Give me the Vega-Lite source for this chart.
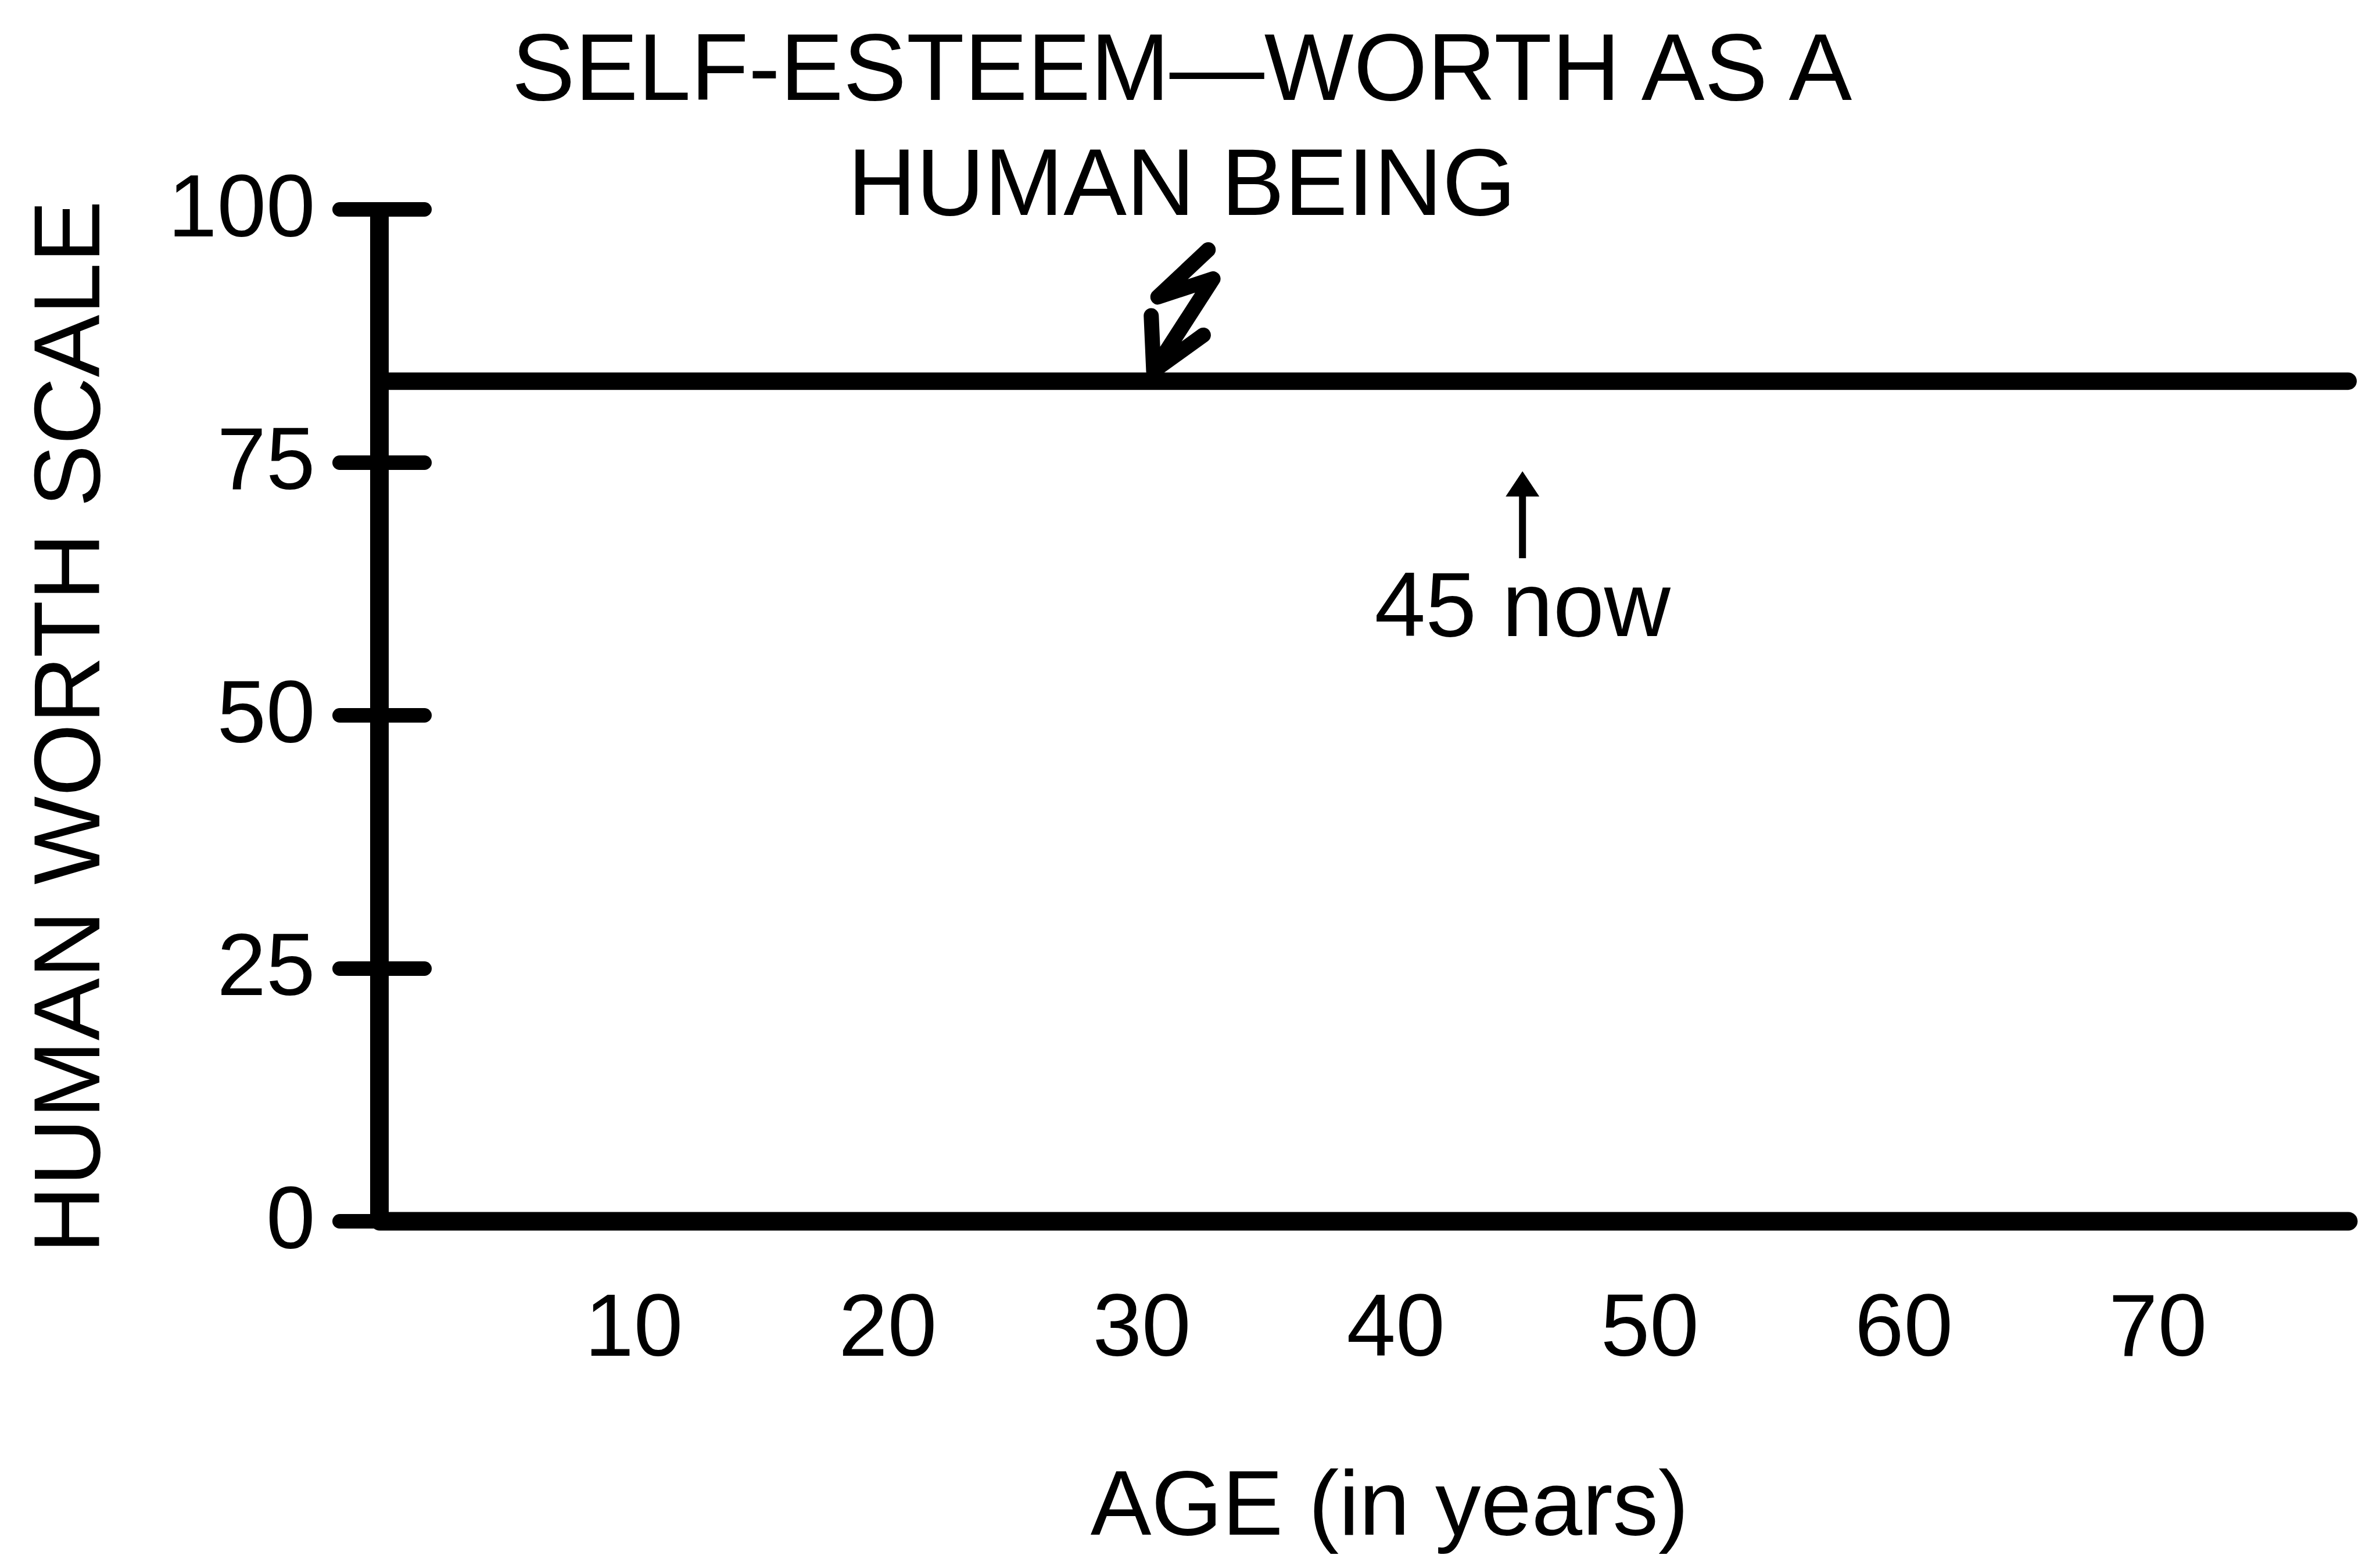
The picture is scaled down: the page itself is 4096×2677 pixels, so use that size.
{
  "$schema": "https://vega.github.io/schema/vega-lite/v6.json",
  "width": 3388,
  "height": 1742,
  "autosize": {"type": "none"},
  "padding": {"left": 653, "top": 360, "right": 55, "bottom": 575},
  "background": "white",
  "title": {
    "text": ["SELF-ESTEEM—WORTH AS A", "HUMAN BEING"],
    "font": "Liberation Sans",
    "fontSize": 163,
    "fontWeight": "normal",
    "color": "black",
    "anchor": "middle",
    "frame": "group",
    "dx": -313,
    "dy": 249,
    "baseline": "alphabetic",
    "lineHeight": 198,
    "offset": 0,
    "limit": 4000
  },
  "config": {
    "view": {"stroke": null},
    "font": "Liberation Sans",
    "axis": {"grid": false, "labelColor": "black", "titleColor": "black", "labelFont": "Liberation Sans", "titleFont": "Liberation Sans", "titleFontWeight": "normal", "labelLimit": 2000, "titleLimit": 4000}
  },
  "datasets": {
    "esteem": [{"age": 0, "worth": 83}, {"age": 77.5, "worth": 83}],
    "axisline": [{"age": 0, "low": 0, "high": 100}],
    "bolt": [{"age": 31.6, "worth": 90}],
    "arrow": [{"age": 45, "start": 65.5, "end": 72.5, "head": 72.85}],
    "now": [{"age": 45, "worth": 57.8, "label": "45 now"}]
  },
  "encoding": {
    "x": {
      "field": "age",
      "type": "quantitative",
      "scale": {"domain": [0, 77.5], "nice": false, "zero": false},
      "axis": {
        "title": "AGE (in years)",
        "values": [10, 20, 30, 40, 50, 60, 70],
        "domain": true,
        "domainColor": "black",
        "domainWidth": 32,
        "domainCap": "round",
        "ticks": false,
        "tickSize": 0,
        "labelFontSize": 152,
        "labelBaseline": "alphabetic",
        "labelPadding": 231,
        "labelFlush": false,
        "labelOverlap": false,
        "titleFontSize": 157,
        "titleX": 1738,
        "titleY": 539,
        "titleBaseline": "alphabetic",
        "titleAlign": "center"
      }
    },
    "y": {
      "field": "worth",
      "type": "quantitative",
      "scale": {"domain": [0, 100], "nice": false},
      "axis": {
        "title": "HUMAN WORTH SCALE",
        "values": [0, 25, 50, 75, 100],
        "offset": -77,
        "domain": false,
        "ticks": true,
        "tickSize": 146,
        "tickWidth": 25,
        "tickColor": "black",
        "tickCap": "round",
        "labelFontSize": 152,
        "labelPadding": 42,
        "labelOverlap": false,
        "titleFontSize": 161,
        "titleX": -560,
        "titleY": 891,
        "titleBaseline": "alphabetic",
        "titleAlign": "center",
        "titleAngle": -90
      }
    }
  },
  "layer": [
    {
      "data": {"name": "esteem"},
      "mark": {"type": "line", "color": "black", "strokeWidth": 30, "strokeCap": "round"}
    },
    {
      "data": {"name": "axisline"},
      "mark": {"type": "rule", "color": "black", "strokeWidth": 32, "strokeCap": "butt"},
      "encoding": {
        "y": {"field": "low", "type": "quantitative"},
        "y2": {"field": "high"}
      }
    },
    {
      "data": {"name": "bolt"},
      "mark": {
        "type": "point",
        "shape": "M0.43,-1L-0.4,-0.22L0.51,-0.52L-0.47,1M-0.51,0.09L-0.47,1L0.35,0.41",
        "size": 43430,
        "filled": false,
        "stroke": "black",
        "strokeWidth": 26,
        "strokeCap": "round",
        "strokeJoin": "round",
        "opacity": 1
      }
    },
    {
      "data": {"name": "arrow"},
      "mark": {"type": "rule", "color": "black", "strokeWidth": 12},
      "encoding": {
        "y": {"field": "start", "type": "quantitative"},
        "y2": {"field": "end"}
      }
    },
    {
      "data": {"name": "arrow"},
      "mark": {
        "type": "point",
        "shape": "M0,-1L1.33,1L-1.33,1Z",
        "size": 1901,
        "filled": true,
        "color": "black",
        "opacity": 1
      },
      "encoding": {
        "y": {"field": "head", "type": "quantitative"}
      }
    },
    {
      "data": {"name": "now"},
      "mark": {"type": "text", "font": "Liberation Sans", "fontSize": 158, "color": "black", "align": "center", "baseline": "alphabetic"},
      "encoding": {
        "text": {"field": "label"}
      }
    }
  ]
}
